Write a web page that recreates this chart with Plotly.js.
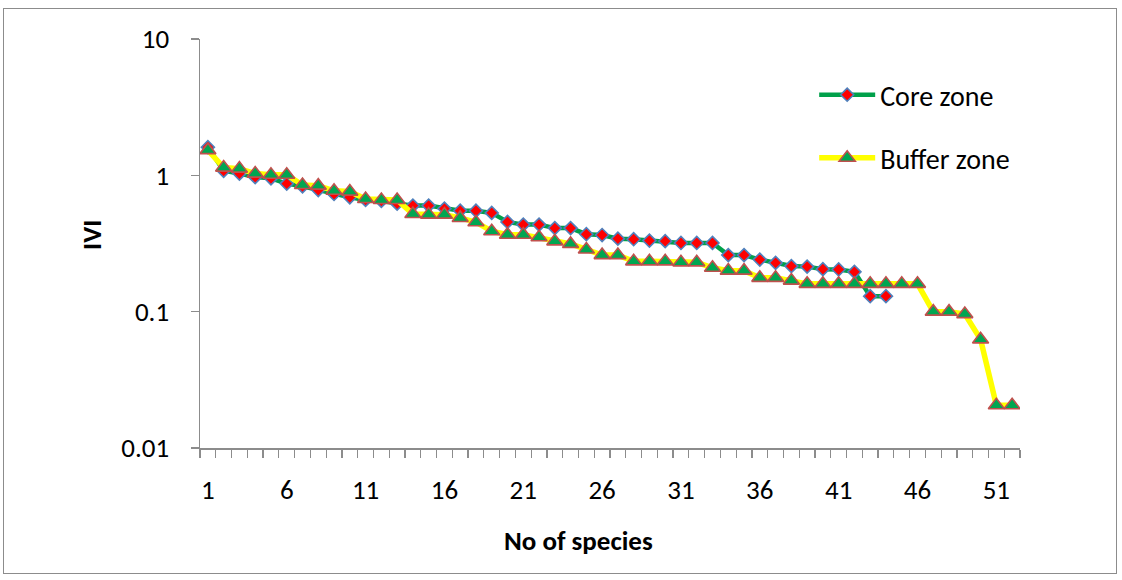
<!DOCTYPE html>
<html>
<head>
<meta charset="utf-8">
<script src="https://cdn.plot.ly/plotly-3.0.1.min.js"></script>
<style>
  html, body { margin: 0; padding: 0; background: #fff; }
  #frame { position: absolute; left: 3px; top: 8px; width: 1114px; height: 566px; border: 1px solid #8c8c8c; box-sizing: border-box; }
  #chart { position: absolute; left: 0; top: 0; width: 1122px; height: 580px; }
</style>
</head>
<body>
<div id="frame"></div>
<div id="chart"></div>
<script>
// Species rank (x categories)
const coreSpecies = Array.from({length: 44}, (_, i) => i + 1);
const bufferSpecies = Array.from({length: 52}, (_, i) => i + 1);

// IVI values (log scale)
const coreIVI = [1.61, 1.08, 1.03, 0.97, 0.95, 0.87, 0.83, 0.78, 0.73, 0.69,
                 0.66, 0.65, 0.62, 0.60, 0.60, 0.57, 0.55, 0.55, 0.53, 0.455,
                 0.435, 0.435, 0.41, 0.41, 0.37, 0.365, 0.343, 0.34, 0.332, 0.329,
                 0.319, 0.319, 0.319, 0.26, 0.26, 0.241, 0.228, 0.216, 0.214, 0.205,
                 0.204, 0.196, 0.13, 0.13];
const bufferIVI = [1.53, 1.14, 1.12, 1.03, 1.01, 1.01, 0.85, 0.84, 0.77, 0.76,
                   0.67, 0.66, 0.66, 0.52, 0.515, 0.515, 0.487, 0.453, 0.389, 0.367,
                   0.367, 0.351, 0.328, 0.314, 0.286, 0.26, 0.26, 0.234, 0.234, 0.234,
                   0.23, 0.23, 0.21, 0.20, 0.20, 0.177, 0.177, 0.169, 0.16, 0.16,
                   0.16, 0.16, 0.16, 0.16, 0.16, 0.16, 0.10, 0.10, 0.096, 0.0626,
                   0.0206, 0.0206];

const xTickVals = [1, 6, 11, 16, 21, 26, 31, 36, 41, 46, 51];
const xTickText = xTickVals.map(String);
const yTickVals = [0.01, 0.1, 1, 10];
const yTickText = ['0.01', '0.1', '1', '10'];
const seriesNames = ['Core zone', 'Buffer zone'];
const xTitle = 'No of species';
const yTitle = 'IVI';

const FONT = 'Carlito, Calibri, Lato, "Liberation Sans", sans-serif';

const traces = [
  {
    x: coreSpecies, y: coreIVI, name: seriesNames[0], type: 'scatter', mode: 'lines+markers',
    line: {color: '#00a04a', width: 4.5},
    marker: {symbol: 'diamond', size: 10, color: '#ff0000', line: {color: '#4f81bd', width: 1.6}},
    legend: 'legend'
  },
  {
    x: bufferSpecies, y: bufferIVI, name: seriesNames[1], type: 'scatter', mode: 'lines+markers',
    line: {color: '#ffff00', width: 5.5},
    marker: {symbol: 'triangle-up', size: 14, color: '#00a651', line: {color: '#c0504d', width: 1.6}},
    legend: 'legend2'
  }
];

const layout = {
  width: 1122, height: 580,
  paper_bgcolor: 'rgba(0,0,0,0)', plot_bgcolor: '#fff',
  margin: {l: 200, r: 102, t: 39, b: 132},
  font: {family: FONT, size: 27, color: '#000'},
  showlegend: true,
  xaxis: {
    range: [0.5, 52.5], tickmode: 'array', tickvals: xTickVals, ticktext: xTickText,
    ticks: '', showgrid: false, zeroline: false,
    showline: true, linecolor: '#8c8c8c', linewidth: 1.5,
    tickfont: {family: FONT, size: 27}, ticklabelstandoff: 17,
    minor: {tickmode: 'linear', tick0: 0.5, dtick: 1, ticks: 'outside', ticklen: 8, tickcolor: '#8c8c8c', tickwidth: 1.2, showgrid: false}
  },
  yaxis: {
    type: 'log', range: [-2, 1], tickmode: 'array', tickvals: yTickVals, ticktext: yTickText,
    ticks: 'outside', ticklen: 8, tickcolor: '#8c8c8c', tickwidth: 1.2,
    showgrid: false, zeroline: false,
    showline: true, linecolor: '#8c8c8c', linewidth: 1.5,
    tickfont: {family: FONT, size: 27}, ticklabelstandoff: 16
  },
  annotations: [
    {text: '<b>' + xTitle + '</b>', xref: 'paper', yref: 'paper', x: 0.462, y: -0.227,
     xanchor: 'center', yanchor: 'middle', showarrow: false, font: {family: FONT, size: 27}},
    {text: '<b>' + yTitle + '</b>', xref: 'paper', yref: 'paper', x: -0.1317, y: 0.521,
     xanchor: 'center', yanchor: 'middle', textangle: -90, showarrow: false, font: {family: FONT, size: 27}}
  ],
  legend: {x: 0.749, xanchor: 'left', y: 0.863, yanchor: 'middle', bgcolor: 'rgba(0,0,0,0)',
           font: {family: FONT, size: 28}, itemwidth: 56, tracegroupgap: 0},
  legend2: {x: 0.749, xanchor: 'left', y: 0.709, yanchor: 'middle', bgcolor: 'rgba(0,0,0,0)',
            font: {family: FONT, size: 28}, itemwidth: 56, tracegroupgap: 0}
};

Plotly.newPlot('chart', traces, layout, {staticPlot: true, displayModeBar: false});
</script>
</body>
</html>
